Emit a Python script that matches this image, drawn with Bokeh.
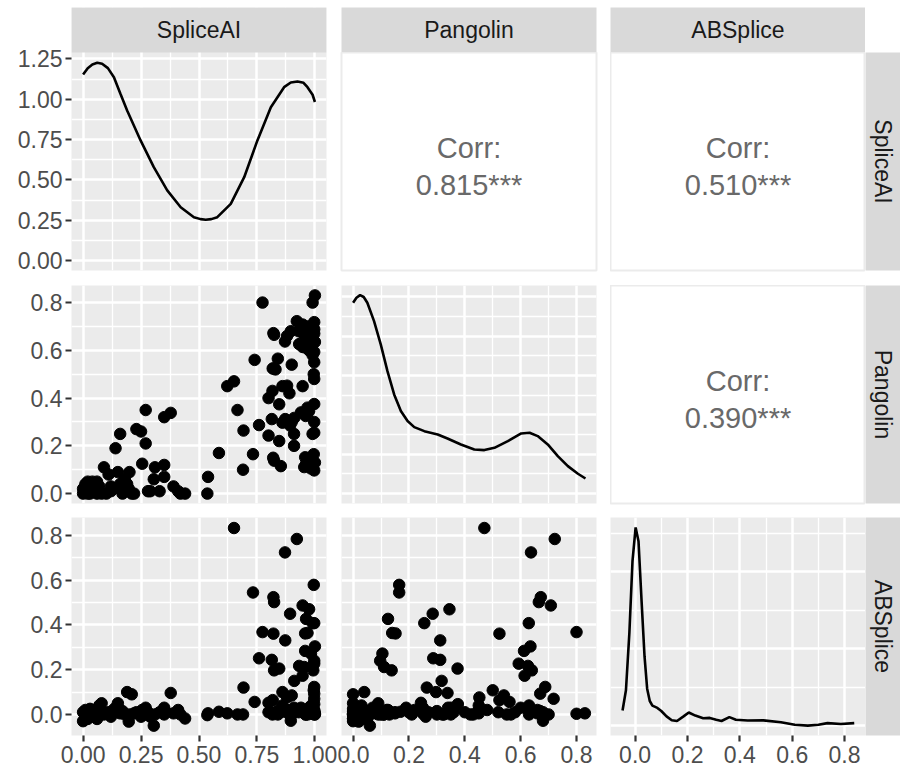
import math
from bokeh.plotting import figure
from bokeh.models import LinearAxis, FixedTicker, Grid, Range1d, Spacer
from bokeh.layouts import row, column
from bokeh.embed import file_html
from bokeh.resources import INLINE
from bokeh.core.properties import value

# ---------------- data ----------------
variables = ["SpliceAI", "Pangolin", "ABSplice"]

spliceai = [
    0.00, 0.00, 0.01, 0.01, 0.02, 0.02, 0.03, 0.04, 0.05, 0.05,
    0.06, 0.07, 0.08, 0.09, 0.10, 0.11, 0.12, 0.13, 0.14, 0.15,
    0.16, 0.16, 0.18, 0.19, 0.21, 0.197, 0.20, 0.22, 0.23, 0.25,
    0.255, 0.27, 0.27, 0.28, 0.29, 0.305, 0.31, 0.33, 0.35, 0.35,
    0.35, 0.378, 0.39, 0.41, 0.42, 0.44, 0.06, 0.03, 0.17, 0.12,
    0.536, 0.539, 0.586, 0.622, 0.651, 0.666, 0.692, 0.690, 0.733, 0.740, 0.759, 0.774,
    0.922, 0.871, 0.995, 0.821, 0.824, 0.947, 0.975, 0.893, 0.962, 0.997,
    0.990, 0.821, 0.968, 0.958, 0.872, 1.000, 0.958, 0.983, 0.814, 0.997,
    0.997, 0.932, 0.954, 0.846, 0.824, 0.993, 0.947, 0.911, 0.997, 0.860,
    0.997, 0.995, 0.900, 0.880, 0.997, 0.818, 0.800, 0.997, 0.985, 0.896,
    0.800, 0.817, 0.820, 0.840, 0.846, 0.853, 0.890, 0.910, 0.910, 0.947,
    0.960, 0.968, 0.990, 0.997, 0.997, 0.990, 1.000, 0.968, 0.950, 0.975,
    0.990, 0.960, 0.975, 0.930, 0.880, 1.000, 0.980, 0.940, 0.900, 0.997,
    0.830, 0.860,
]

pangolin = [
    0.00, 0.02, 0.04, 0.01, 0.05, 0.00, 0.02, 0.05, 0.01, 0.04,
    0.00, 0.03, 0.00, 0.11, 0.00, 0.08, 0.01, 0.02, 0.19, 0.09,
    0.25, 0.04, 0.06, 0.04, 0.00, 0.02, 0.09, 0.00, 0.27, 0.26,
    0.125, 0.35, 0.21, 0.01, 0.01, 0.06, 0.11, 0.01, 0.12, 0.07,
    0.32, 0.338, 0.03, 0.01, 0.00, 0.00, 0.05, 0.00, 0.00, 0.03,
    0.00, 0.07, 0.17, 0.45, 0.47, 0.35, 0.264, 0.10, 0.165, 0.56, 0.287, 0.80,
    0.722, 0.637, 0.165, 0.672, 0.665, 0.708, 0.345, 0.285, 0.125, 0.255,
    0.629, 0.524, 0.140, 0.152, 0.312, 0.635, 0.612, 0.105, 0.312, 0.097,
    0.593, 0.626, 0.111, 0.374, 0.138, 0.640, 0.614, 0.317, 0.688, 0.297,
    0.670, 0.500, 0.540, 0.452, 0.718, 0.524, 0.243, 0.375, 0.630, 0.680,
    0.40, 0.43, 0.15, 0.565, 0.22, 0.115, 0.42, 0.25, 0.20, 0.45,
    0.325, 0.36, 0.25, 0.48, 0.55, 0.80, 0.83, 0.70, 0.67, 0.60,
    0.58, 0.63, 0.66, 0.68, 0.66, 0.13, 0.15, 0.34, 0.30, 0.30,
    0.52, 0.45,
]

absplice = [
    -0.030, 0.010, -0.010, 0.020, 0.000, -0.020, 0.005, 0.015, -0.005, 0.010,
    0.000, 0.040, 0.050, 0.000, 0.005, 0.010, 0.000, 0.020, 0.030, 0.050,
    0.005, 0.010, 0.000, 0.100, 0.090, -0.032, 0.000, 0.005, 0.010, -0.010,
    0.020, 0.030, 0.000, 0.010, -0.010, -0.050, 0.000, 0.010, 0.020, 0.030,
    0.000, 0.096, 0.005, 0.020, 0.000, -0.018, -0.020, 0.025, 0.015, -0.010,
    -0.003, 0.005, 0.012, 0.005, 0.833, 0.000, 0.120, 0.000, 0.545, 0.056, 0.251, 0.368,
    0.784, 0.724, 0.579, 0.524, 0.502, 0.487, 0.470, 0.450, 0.427, 0.408,
    0.408, 0.361, 0.364, 0.362, 0.331, 0.304, 0.284, 0.272, 0.244, 0.240,
    0.227, 0.217, 0.212, 0.205, 0.197, 0.197, 0.173, 0.150, 0.123, 0.100,
    0.093, 0.108, 0.085, 0.076, 0.070, 0.064, 0.052, 0.046, 0.040, -0.028,
    0.010, 0.000, 0.005, 0.000, 0.020, 0.010, 0.000, 0.030, 0.010, 0.020,
    0.000, 0.010, 0.005, 0.020, 0.000, 0.003, 0.005, 0.000, 0.015, 0.030,
    0.010, 0.000, 0.005, 0.010, 0.020, 0.000, 0.010, 0.030, 0.000, 0.015,
    0.010, 0.040,
]

# correlation labels for upper panels: (row, col) -> text
corr_pairs = [(0, 1), (0, 2), (1, 2)]
corr_texts = ["0.815***", "0.510***", "0.390***"]

# density curves (diagonal)
dens_spliceai_x = [0.000, 0.020, 0.040, 0.061, 0.082, 0.107, 0.133, 0.161, 0.190, 0.248,
                   0.305, 0.363, 0.421, 0.478, 0.507, 0.529, 0.553, 0.579, 0.637, 0.695,
                   0.752, 0.810, 0.867, 0.896, 0.925, 0.951, 0.968, 0.990, 1.000]
dens_spliceai_y = [1.154, 1.193, 1.216, 1.226, 1.220, 1.193, 1.137, 1.034, 0.931, 0.745,
                   0.579, 0.435, 0.331, 0.269, 0.257, 0.253, 0.257, 0.269, 0.352, 0.517,
                   0.745, 0.951, 1.075, 1.104, 1.110, 1.102, 1.075, 1.028, 0.983]

dens_pangolin_x = [0.000, 0.012, 0.025, 0.038, 0.051, 0.075, 0.099, 0.123, 0.147, 0.171,
                   0.195, 0.219, 0.255, 0.303, 0.338, 0.386, 0.434, 0.470, 0.506, 0.554,
                   0.602, 0.632, 0.661, 0.697, 0.733, 0.769, 0.805, 0.832]
dens_pangolin_y = [2.426, 2.490, 2.524, 2.500, 2.426, 2.193, 1.897, 1.557, 1.261, 1.049,
                   0.922, 0.845, 0.794, 0.752, 0.701, 0.625, 0.561, 0.553, 0.582, 0.667,
                   0.765, 0.773, 0.731, 0.625, 0.476, 0.349, 0.252, 0.192]

dens_absplice_x = [-0.048, -0.035, -0.022, -0.010, 0.002, 0.013, 0.025, 0.036, 0.046, 0.056,
                   0.066, 0.085, 0.100, 0.120, 0.140, 0.160, 0.185, 0.205, 0.230, 0.260,
                   0.285, 0.310, 0.330, 0.360, 0.385, 0.430, 0.490, 0.557, 0.610, 0.660,
                   0.700, 0.735, 0.786, 0.837]
dens_absplice_y = [0.98, 2.30, 6.00, 10.70, 12.90, 12.00, 8.00, 4.50, 2.40, 1.60,
                   1.30, 1.15, 0.95, 0.60, 0.35, 0.30, 0.60, 0.85, 0.65, 0.48,
                   0.50, 0.38, 0.30, 0.55, 0.38, 0.33, 0.34, 0.22, 0.05, 0.00,
                   0.05, 0.16, 0.10, 0.16]

data = [spliceai, pangolin, absplice]
dens_x = [dens_spliceai_x, dens_pangolin_x, dens_absplice_x]
dens_y = [dens_spliceai_y, dens_pangolin_y, dens_absplice_y]

# scales
var_ranges = [(-0.05, 1.05), (-0.0415, 0.8715), (-0.094, 0.880)]
dens_ranges = [(-0.0615, 1.29), (-0.126, 2.646), (-0.645, 13.545)]

var_ticks = [[0.0, 0.25, 0.5, 0.75, 1.0], [0.0, 0.2, 0.4, 0.6, 0.8], [0.0, 0.2, 0.4, 0.6, 0.8]]
var_minor = [[0.125, 0.375, 0.625, 0.875], [0.1, 0.3, 0.5, 0.7], [0.1, 0.3, 0.5, 0.7]]
var_labels = [["0.00", "0.25", "0.50", "0.75", "1.00"],
              ["0.0", "0.2", "0.4", "0.6", "0.8"],
              ["0.0", "0.2", "0.4", "0.6", "0.8"]]

dens_ticks = [[0.0, 0.25, 0.5, 0.75, 1.0, 1.25], [0.0, 0.5, 1.0, 1.5, 2.0, 2.5], [0.0, 5.0, 10.0]]
dens_minor = [[0.125, 0.375, 0.625, 0.875, 1.125], [0.25, 0.75, 1.25, 1.75, 2.25], [2.5, 7.5, 12.5]]
dens1_labels = ["0.00", "0.25", "0.50", "0.75", "1.00", "1.25"]

# ---------------- layout / style ----------------
FRAME_W, FRAME_H = 255, 218
col_borders = [(71, 11), (4, 14), (0, 0)]
row_bottoms = [15, 14, 35]
STRIP_TOP, STRIP_H, STRIP_W = 7, 45, 35
PANEL_BG = "#EBEBEB"
STRIP_BG = "#D9D9D9"
FONT = "Liberation Sans"


def make_fig(w, h, xr, yr, bl, br, bt, bb, bg):
    f = figure(width=w, height=h, x_range=Range1d(*xr), y_range=Range1d(*yr),
               x_axis_location=None, y_axis_location=None, toolbar_location=None,
               output_backend="svg", title=None,
               min_border_left=bl, min_border_right=br, min_border_top=bt, min_border_bottom=bb,
               background_fill_color=bg, border_fill_color="white", outline_line_color=None)
    f.center = [r for r in f.center if not isinstance(r, Grid)]
    return f


def add_grid(f, dim, majors, minors):
    f.add_layout(Grid(dimension=dim, ticker=FixedTicker(ticks=majors, minor_ticks=minors),
                      grid_line_color="white", grid_line_width=2.5,
                      minor_grid_line_color="white", minor_grid_line_width=1.3), "center")


def add_axis(f, side, ticks, labels):
    ax = LinearAxis(ticker=FixedTicker(ticks=ticks),
                    major_label_overrides={t: l for t, l in zip(ticks, labels)},
                    axis_line_color=None, major_tick_line_color="#333333", major_tick_line_width=2.2,
                    major_tick_in=0, major_tick_out=6, minor_tick_line_color=None,
                    major_label_text_font=FONT, major_label_text_font_size="23px",
                    major_label_text_color="#4D4D4D",
                    major_label_standoff=3 if side == "left" else 4)
    f.add_layout(ax, side)


def strip_text(f, x, y, label, angle=0.0):
    f.text(x=[x], y=[y], text=[label], text_align="center", text_baseline="middle",
           angle=angle, text_font=value(FONT), text_font_size="23px", text_color="#1A1A1A")


cells = {}
for i in range(3):
    bb = row_bottoms[i]
    for j in range(3):
        bl, br = col_borders[j]
        w, h = FRAME_W + bl + br, FRAME_H + bb
        if i < j:
            f = make_fig(w, h, (0, 1), (0, 1), bl, br, 0, bb, "white")
            f.outline_line_color = PANEL_BG
            f.outline_line_width = 2
            k = corr_pairs.index((i, j))
            f.text(x=[0.5, 0.5], y=[0.560, 0.390], text=["Corr:", corr_texts[k]],
                   text_align="center", text_baseline="alphabetic",
                   text_font=value(FONT), text_font_size="29px", text_color="#696969")
        elif i == j:
            ylo, yhi = dens_ranges[i]
            if i == 0:
                # first column: the strip is drawn inside this canvas, above the panel,
                # so that the top tick label is not clipped
                ext = STRIP_H / FRAME_H * (yhi - ylo)
                f = make_fig(w, h + STRIP_H + STRIP_TOP, var_ranges[j], (ylo, yhi + ext),
                             bl, br, STRIP_TOP, bb, PANEL_BG)
            else:
                f = make_fig(w, h, var_ranges[j], dens_ranges[i], bl, br, 0, bb, PANEL_BG)
            add_grid(f, 0, var_ticks[j], var_minor[j])
            add_grid(f, 1, dens_ticks[i], dens_minor[i])
            f.line(dens_x[i], dens_y[i], line_color="black", line_width=2.6)
            if i == 0:
                xlo, xhi = var_ranges[j]
                f.quad(left=[xlo], right=[xhi], bottom=[yhi], top=[yhi + ext],
                       fill_color=STRIP_BG, line_color=None)
                strip_text(f, (xlo + xhi) / 2, yhi + ext / 2, variables[0])
        else:
            f = make_fig(w, h, var_ranges[j], var_ranges[i], bl, br, 0, bb, PANEL_BG)
            add_grid(f, 0, var_ticks[j], var_minor[j])
            add_grid(f, 1, var_ticks[i], var_minor[i])
            f.scatter(data[j], data[i], size=11.5, color="black")
        if j == 0:
            if i == 0:
                add_axis(f, "left", dens_ticks[0], dens1_labels)
            else:
                add_axis(f, "left", var_ticks[i], var_labels[i])
        if i == 2:
            add_axis(f, "below", var_ticks[j], var_labels[j])
        cells[(i, j)] = f

cols = []
for j in range(3):
    items = []
    if j > 0:
        bl, br = col_borders[j]
        s = make_fig(FRAME_W + bl + br, STRIP_H + STRIP_TOP, (0, 1), (0, 1), bl, br, STRIP_TOP, 0, STRIP_BG)
        strip_text(s, 0.5, 0.5, variables[j])
        items.append(s)
    items += [cells[(i, j)] for i in range(3)]
    cols.append(column(*items))

right = [Spacer(width=STRIP_W, height=STRIP_H + STRIP_TOP)]
for i in range(3):
    bb = row_bottoms[i]
    rs = make_fig(STRIP_W, FRAME_H + bb, (0, 1), (0, 1), 0, 0, 0, bb, STRIP_BG)
    strip_text(rs, 0.5, 0.5, variables[i], angle=-math.pi / 2)
    right.append(rs)
cols.append(column(*right))

layout = row(*cols)

with open("out.html", "w") as fh:
    fh.write(file_html(layout, INLINE))
